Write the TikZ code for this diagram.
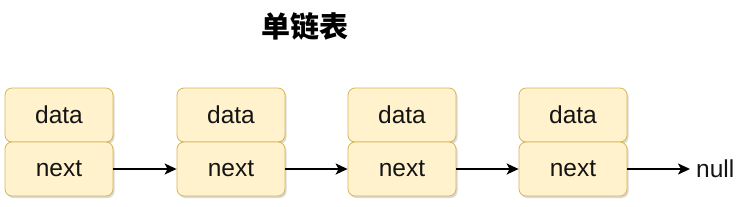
\documentclass[tikz,border=0pt]{standalone}
\usepackage{fontspec}
\setmainfont{Liberation Sans}
\newfontfamily\cjk{Noto Sans CJK SC}
\usepackage{xcolor}
\definecolor{cellfill}{HTML}{FFF2CC}
\definecolor{celledge}{HTML}{D6B656}
\definecolor{inkgray}{HTML}{141414}
\usepackage{tikz}
\usetikzlibrary{positioning, arrows.meta, shadows}

\begin{document}
\begin{tikzpicture}[x=1pt, y=-1pt,
  cell/.style={draw=celledge, fill=cellfill, rounded corners=7pt, line width=0.8pt,
    minimum width=108pt, minimum height=54pt, inner sep=0pt, text=inkgray,
    font=\fontsize{24.5}{27}\selectfont,
    drop shadow={shadow xshift=1.5pt, shadow yshift=-2pt, fill=black, opacity=0.15}},
  link/.style={-{Stealth[length=12pt, width=11pt, inset=3pt]}, line width=1.8pt}]
  \useasboundingbox (0,0) rectangle (749,206);
  % title
  \node[font=\cjk\bfseries\fontsize{29}{31}\selectfont] (title) at (305,26) {单链表};
  % four list nodes: data on top, next below
  \foreach \i/\x in {1/59, 2/231, 3/402, 4/573} {
    \node[cell] (data\i) at (\x,115) {\raisebox{1pt}{data}};
    \node[cell] (next\i) at (\x,169) {next};
  }
  \node[font=\fontsize{24.5}{27}\selectfont, text=inkgray, anchor=west, inner xsep=6pt]
    (null) at (690,169) {null};
  % links
  \foreach \i/\j in {1/2, 2/3, 3/4}
    \draw[link] (next\i.east) -- (next\j.west);
  \draw[link] (next4.east) -- (null.west);
\end{tikzpicture}
\end{document}
